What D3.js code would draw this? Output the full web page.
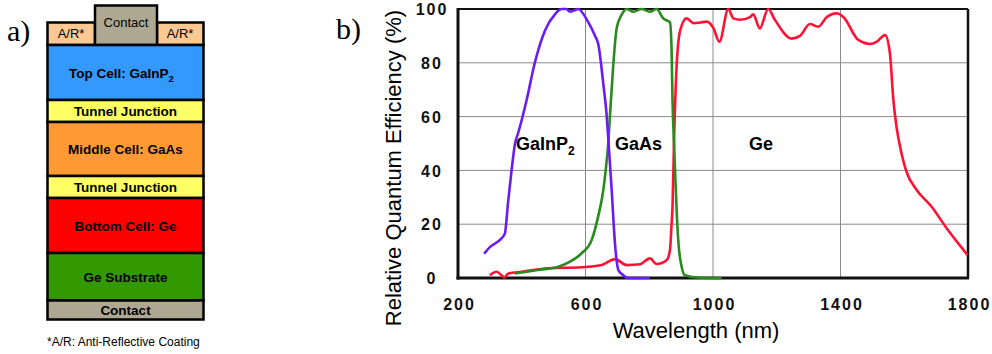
<!DOCTYPE html>
<html>
<head>
<meta charset="utf-8">
<script src="https://cdn.jsdelivr.net/npm/d3@7"></script>
<style>
  body { margin: 0; background: #fff; }
  svg { display: block; font-family: "Liberation Sans", Arial, sans-serif; }
</style>
</head>
<body>
<svg id="chart" width="992" height="354"></svg>
<script>
// layer stack of the cell (top to bottom)
var layerNames = ["Top Cell: GaInP", "Tunnel Junction", "Middle Cell: GaAs", "Tunnel Junction", "Bottom Cell: Ge", "Ge Substrate", "Contact"];
var layerColors = ["#3399ff", "#ffff66", "#ff9933", "#ffff66", "#ff0000", "#339900", "#aea893"];

// quantum efficiency curves
var waveGaInP = [282, 300, 330, 347, 357, 368, 379, 389, 415, 441, 473, 504, 525, 540, 551, 565, 577, 609, 630, 640, 656, 666, 672, 682, 693, 703, 714, 734, 802];
var qeGaInP   = [9, 11.5, 14, 16.5, 28, 40, 50, 54, 66, 80, 92, 98, 100, 100, 99, 99.5, 100, 95, 90, 87, 72, 61, 51, 33, 12, 3, 1.5, 0, 0];

var waveGaAs = [379, 450, 515, 550, 588, 619, 640, 655, 665, 672, 677, 687, 698, 714, 729, 750, 776, 802, 823, 844, 865, 870, 873, 877, 881, 886, 891, 902, 912, 949, 1027];
var qeGaAs   = [1.7, 3, 4.2, 6, 9.2, 14, 23, 32, 42, 51, 61, 79, 93, 98, 100, 99, 100, 99, 100, 96.5, 95, 85, 66, 52, 40, 25, 14, 4, 1, 0.2, 0];

var waveGe = [300, 321, 337, 345, 358, 400, 483, 588, 609, 651, 693, 729, 771, 802, 823, 855, 865, 870, 873, 878, 886, 897, 917, 940, 960, 980, 1001, 1020, 1048, 1064, 1085, 1116, 1126, 1147, 1173, 1194, 1247, 1273, 1304, 1330, 1357, 1388, 1409, 1456, 1493, 1513, 1540, 1555, 1566, 1576, 1592, 1607, 1639, 1686, 1733, 1799];
var qeGe   = [1, 2.3, 1, 0.2, 1.7, 2.3, 3.6, 4, 4.2, 4.8, 7, 4.8, 5.1, 7.3, 5.2, 6.7, 10.4, 20, 26.5, 52, 79, 92, 96.5, 94.7, 95, 95.3, 93, 87.8, 100, 96.5, 96, 97, 98, 92.8, 100, 96, 89, 90, 94.4, 93.4, 97, 98.4, 97, 88.5, 87, 87.8, 90.3, 83.5, 66, 56, 46, 39.5, 32.7, 26.5, 18.5, 8.5];

var xTicks = [200, 600, 1000, 1400, 1800];
var yTicks = [0, 20, 40, 60, 80, 100];

var svg = d3.select("#chart");

// ---------- a) layer diagram ----------
svg.append("text").attr("x", 7).attr("y", 41)
   .style("font-family", "'Liberation Serif', 'Times New Roman', serif")
   .style("font-size", "30px").text("a)");

var stackL = 47.5, stackR = 203.5;
var bounds = [45, 100, 122, 176, 198, 253, 300.5, 319.5];
var g = svg.append("g");

// top row: A/R, A/R, contact
var topRow = [
  {x0: stackL, x1: 95, y0: 22.5, color: "#fcc894"},
  {x0: 157, x1: stackR, y0: 22.5, color: "#fcc894"},
  {x0: 95, x1: 157, y0: 5.5, color: "#aea893"}
];
topRow.forEach(function(d){
  g.append("rect").attr("x", d.x0).attr("y", d.y0)
   .attr("width", d.x1 - d.x0).attr("height", bounds[0] - d.y0)
   .attr("fill", d.color).attr("stroke", "#000").attr("stroke-width", 2.5);
});
g.append("text").attr("x", 71).attr("y", 38).attr("text-anchor", "middle")
  .style("font-size", "13px").text("A/R*");
g.append("text").attr("x", 180).attr("y", 38).attr("text-anchor", "middle")
  .style("font-size", "13px").text("A/R*");
g.append("text").attr("x", 126).attr("y", 27).attr("text-anchor", "middle")
  .style("font-size", "13px").text("Contact");

layerNames.forEach(function(name, i){
  var y0 = bounds[i], y1 = bounds[i + 1];
  g.append("rect").attr("x", stackL).attr("y", y0)
   .attr("width", stackR - stackL).attr("height", y1 - y0)
   .attr("fill", layerColors[i]).attr("stroke", "#000").attr("stroke-width", 2.5);
  var t = g.append("text").attr("x", (stackL + stackR) / 2 - (i == 0 ? 4 : 0))
   .attr("y", (y0 + y1) / 2 + 5).attr("text-anchor", "middle")
   .style("font-size", "13.5px").style("font-weight", "bold").text(name);
  if (i == 0) {
    t.append("tspan").attr("dy", 4).style("font-size", "9.5px").text("2");
  }
});

svg.append("text").attr("x", 47).attr("y", 346)
   .style("font-size", "12px").text("*A/R: Anti-Reflective Coating");

// ---------- b) quantum efficiency chart ----------
svg.append("text").attr("x", 336).attr("y", 39)
   .style("font-family", "'Liberation Serif', 'Times New Roman', serif")
   .style("font-size", "30px").text("b)");

var plotL = 458, plotR = 968, plotT = 9, plotB = 278;
var x = d3.scaleLinear().domain([200, 1800]).range([plotL, plotR]);
var y = d3.scaleLinear().domain([0, 100]).range([plotB, plotT]);

// grid
svg.append("g").selectAll("line").data(xTicks.slice(1, -1)).enter().append("line")
   .attr("x1", function(d){ return x(d); }).attr("x2", function(d){ return x(d); })
   .attr("y1", plotT).attr("y2", plotB).attr("stroke", "#8a8a8a").attr("stroke-width", 1);
svg.append("g").selectAll("line").data(yTicks.slice(1, -1)).enter().append("line")
   .attr("y1", function(d){ return y(d); }).attr("y2", function(d){ return y(d); })
   .attr("x1", plotL).attr("x2", plotR).attr("stroke", "#8a8a8a").attr("stroke-width", 1);

// axes (labels only)
var xAxis = svg.append("g").attr("transform", "translate(0," + plotB + ")")
   .call(d3.axisBottom(x).tickValues(xTicks).tickFormat(d3.format("d")).tickSize(0).tickPadding(21));
var yAxis = svg.append("g").attr("transform", "translate(" + plotL + ",0)")
   .call(d3.axisLeft(y).tickValues(yTicks).tickFormat(d3.format("d")).tickSize(0).tickPadding(18));
[xAxis, yAxis].forEach(function(a){
  a.select(".domain").remove();
  a.selectAll("text").style("font-family", "'Liberation Sans', Arial, sans-serif")
   .style("font-size", "16px").style("font-weight", "bold")
   .style("letter-spacing", "2px").attr("fill", "#111");
});
xAxis.selectAll("text").attr("dx", 1);
yAxis.selectAll("text").attr("text-anchor", "middle").attr("x", -26).attr("dy", "0.36em");

// frame
svg.append("line").attr("x1", plotL).attr("x2", plotR).attr("y1", plotT).attr("y2", plotT)
   .attr("stroke", "#111").attr("stroke-width", 2);
svg.append("line").attr("x1", plotR).attr("x2", plotR).attr("y1", plotT).attr("y2", plotB)
   .attr("stroke", "#111").attr("stroke-width", 2.5);
svg.append("line").attr("x1", plotL).attr("x2", plotL).attr("y1", plotT - 1).attr("y2", plotB + 1.5)
   .attr("stroke", "#111").attr("stroke-width", 3);
svg.append("line").attr("x1", plotL - 1.5).attr("x2", plotR + 1).attr("y1", plotB).attr("y2", plotB)
   .attr("stroke", "#111").attr("stroke-width", 3);

// curves
var line = d3.line()
   .x(function(d){ return x(d[0]); })
   .y(function(d){ return y(d[1]); })
   .curve(d3.curveMonotoneX);

function pairs(xs, ys) {
  return xs.map(function(v, i){ return [v, ys[i]]; });
}

svg.append("path").datum(pairs(waveGe, qeGe)).attr("d", line)
   .attr("fill", "none").attr("stroke", "#ff1133").attr("stroke-width", 2.6);
svg.append("path").datum(pairs(waveGaAs, qeGaAs)).attr("d", line)
   .attr("fill", "none").attr("stroke", "#2a8a1e").attr("stroke-width", 2.6);
svg.append("path").datum(pairs(waveGaInP, qeGaInP)).attr("d", line)
   .attr("fill", "none").attr("stroke", "#6a1cf5").attr("stroke-width", 2.6);

// series labels
var lab = svg.append("g").style("font-size", "18px").style("font-weight", "bold");
var t1 = lab.append("text").attr("x", 516).attr("y", 150).text("GaInP");
t1.append("tspan").attr("dy", 5).style("font-size", "12px").text("2");
lab.append("text").attr("x", 615).attr("y", 150).text("GaAs");
lab.append("text").attr("x", 749).attr("y", 150).text("Ge");

// axis titles
svg.append("text").attr("x", 696).attr("y", 338).attr("text-anchor", "middle")
   .style("font-size", "22px").text("Wavelength (nm)");
svg.append("text").attr("transform", "translate(401,168) rotate(-90)")
   .attr("text-anchor", "middle").style("font-size", "22px")
   .text("Relative Quantum Efficiency (%)");
</script>
</body>
</html>
